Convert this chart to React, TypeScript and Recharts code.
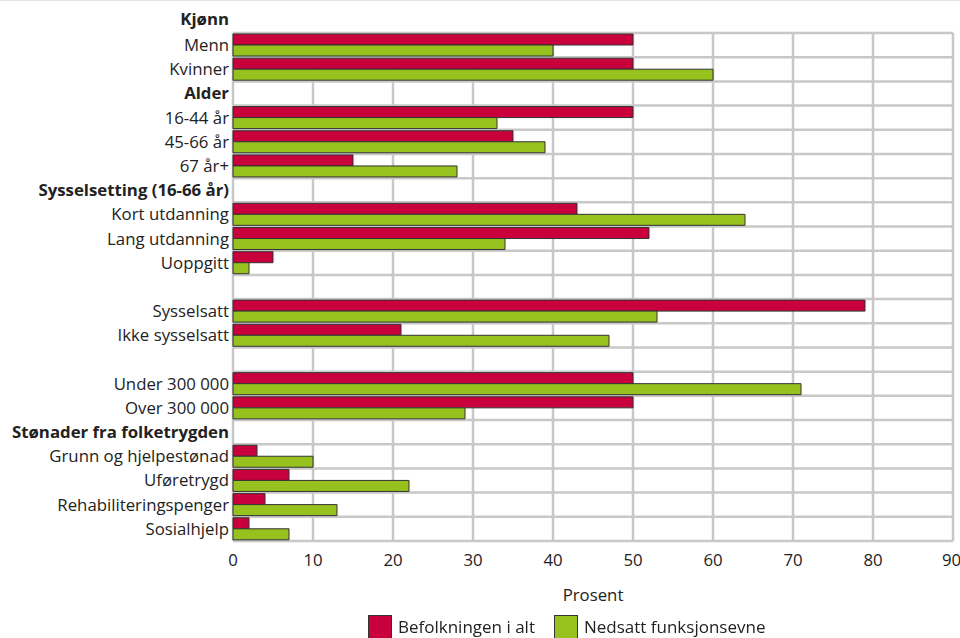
import React from 'react';
import { BarChart, Bar, XAxis, YAxis, CartesianGrid, Legend } from 'recharts';

const categories = [
  'Menn', 'Kvinner', 'Alder', '16-44 år', '45-66 år', '67 år+',
  'Sysselsetting (16-66 år)', 'Kort utdanning', 'Lang utdanning', 'Uoppgitt', '',
  'Sysselsatt', 'Ikke sysselsatt', '', 'Under 300 000', 'Over 300 000',
  'Stønader fra folketrygden', 'Grunn og hjelpestønad', 'Uføretrygd',
  'Rehabiliteringspenger', 'Sosialhjelp',
];
const headerLabels = ['Kjønn', 'Alder', 'Sysselsetting (16-66 år)', 'Stønader fra folketrygden'];
const topHeader = 'Kjønn';

const befolkningen: (number | null)[] = [50, 50, null, 50, 35, 15, null, 43, 52, 5, null, 79, 21, null, 50, 50, null, 3, 7, 4, 2];
const nedsatt: (number | null)[] = [40, 60, null, 33, 39, 28, null, 64, 34, 2, null, 53, 47, null, 71, 29, null, 10, 22, 13, 7];

const xTicks = [0, 10, 20, 30, 40, 50, 60, 70, 80, 90];
const seriesNames = ['Befolkningen i alt', 'Nedsatt funksjonsevne'];

const data = categories.map((c, i) => ({
  id: 'r' + i,
  label: c,
  bef: befolkningen[i],
  ned: nedsatt[i],
}));

const RED = '#c8003c';
const GREEN = '#96c11e';
const FONT = "'Open Sans', sans-serif";
const FS = 16.8;

const YTick = (props: any) => {
  const { x, y, payload } = props;
  const row = data.find((d) => d.id === payload.value);
  const label = row ? row.label : '';
  const bold = headerLabels.includes(label);
  return (
    <text x={x} y={y} dy="0.355em" textAnchor="end" fontFamily={FONT} fontSize={FS} fill="#222" fontWeight={bold ? 700 : 400}>
      {label}
    </text>
  );
};

const LegendContent = () => {
  const colors = [RED, GREEN];
  return (
    <div style={{ display: 'flex', justifyContent: 'flex-start', fontFamily: FONT, fontSize: 17, color: '#222' }}>
      {seriesNames.map((n, i) => (
        <div key={n} style={{ display: 'flex', alignItems: 'flex-start', marginRight: i === 0 ? 19 : 0 }}>
          <div style={{ width: 24, height: 24, background: colors[i], border: '1px solid #333', boxSizing: 'border-box', marginRight: 6 }} />
          <span style={{ lineHeight: '22px', marginTop: 1 }}>{n}</span>
        </div>
      ))}
    </div>
  );
};

export default function App() {
  return (
    <div style={{ position: 'fixed', left: 0, top: 0, width: 960, height: 638, background: '#fff', borderTop: '1px solid #e4e4e4', boxSizing: 'border-box' }}>
      <BarChart
        width={960}
        height={637}
        data={data}
        layout="vertical"
        margin={{ top: 32, right: 7, bottom: 0, left: 0 }}
        barCategoryGap={1}
        barGap={0}
      >
        <CartesianGrid
          stroke="#c8c8c8"
          strokeWidth={2.5}
          horizontalCoordinatesGenerator={({ offset }: any) =>
            Array.from({ length: categories.length + 1 }, (_, i) => offset.top + (i * offset.height) / categories.length)
          }
        />
        <XAxis
          type="number"
          domain={[0, 90]}
          ticks={xTicks}
          axisLine={false}
          tickLine={false}
          tickSize={6}
          tickMargin={7}
          height={97}
          tick={{ fontFamily: FONT, fontSize: FS, fill: '#222' }}
          label={{ value: 'Prosent', position: 'insideBottom', offset: 37, fontFamily: FONT, fontSize: FS, fill: '#222' }}
        />
        <YAxis
          type="category"
          dataKey="id"
          width={233}
          axisLine={false}
          tickLine={false}
          tickSize={0}
          tickMargin={4}
          interval={0}
          tick={<YTick />}
          label={{
            content: ({ viewBox }: any) => (
              <text x={viewBox.x + viewBox.width - 4} y={viewBox.y - 14} dy="0.355em" textAnchor="end" fontFamily={FONT} fontSize={FS} fontWeight={700} fill="#222">
                {topHeader}
              </text>
            ),
          }}
        />
        <Legend
          verticalAlign="middle"
          align="center"
          layout="horizontal"
          wrapperStyle={{ top: 614, left: 368, width: 560 }}
          content={<LegendContent />}
        />
        <Bar dataKey="bef" name={seriesNames[0]} fill={RED} stroke="#333" strokeWidth={1} isAnimationActive={false} />
        <Bar dataKey="ned" name={seriesNames[1]} fill={GREEN} stroke="#333" strokeWidth={1} isAnimationActive={false} />
      </BarChart>
    </div>
  );
}
